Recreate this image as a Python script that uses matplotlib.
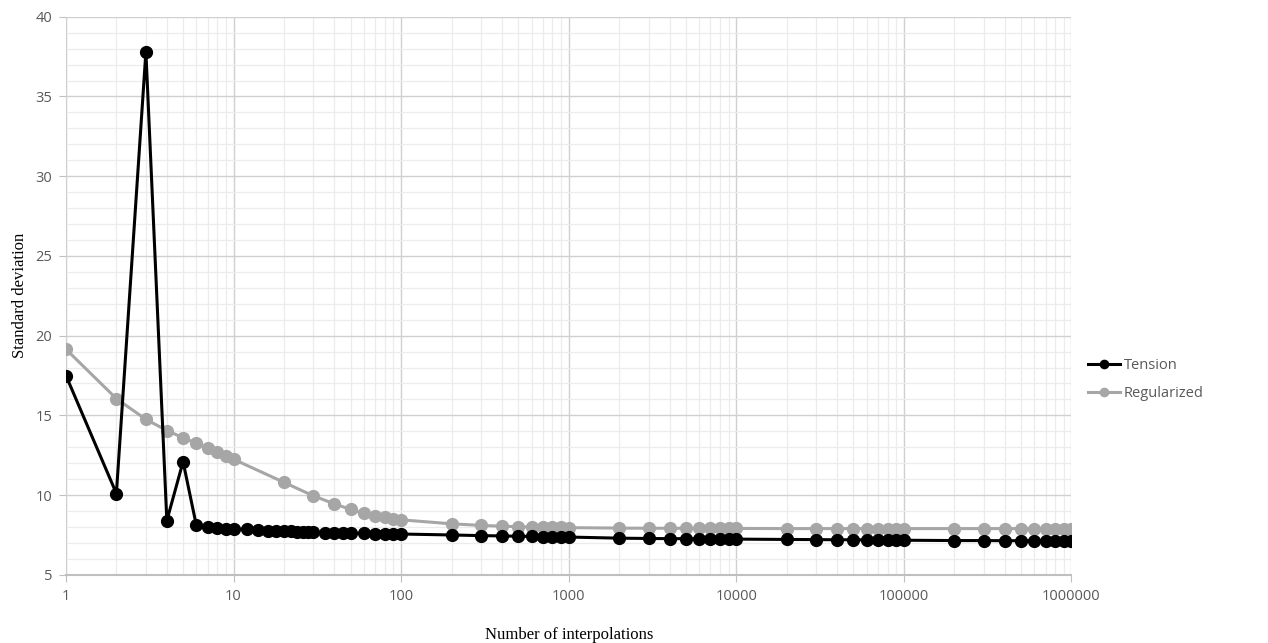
import matplotlib.pyplot as plt
from matplotlib.ticker import FixedLocator, NullFormatter

# interpolation counts
tension_x = [1, 2, 3, 4, 5, 6, 7, 8, 9, 10,
             12, 14, 16, 18, 20, 22, 24, 26, 28, 30, 35, 40, 45, 50,
             60, 70, 80, 90, 100,
             200, 300, 400, 500, 600, 700, 800, 900, 1000,
             2000, 3000, 4000, 5000, 6000, 7000, 8000, 9000, 10000,
             20000, 30000, 40000, 50000, 60000, 70000, 80000, 90000, 100000,
             200000, 300000, 400000, 500000, 600000, 700000, 800000, 900000, 1000000]
tension_y = [17.5, 10.1, 37.8, 8.4, 12.1, 8.1, 8.0, 7.95, 7.9, 7.88,
             7.85, 7.8, 7.78, 7.76, 7.75, 7.72, 7.7, 7.69, 7.68, 7.67, 7.65, 7.63, 7.62, 7.61,
             7.6, 7.59, 7.58, 7.57, 7.56,
             7.5, 7.46, 7.44, 7.42, 7.41, 7.4, 7.39, 7.38, 7.37,
             7.3, 7.28, 7.27, 7.27, 7.26, 7.26, 7.25, 7.25, 7.24,
             7.22, 7.21, 7.2, 7.2, 7.19, 7.19, 7.18, 7.18, 7.17,
             7.15, 7.15, 7.14, 7.14, 7.14, 7.13, 7.13, 7.13, 7.13]

reg_x = [1, 2, 3, 4, 5, 6, 7, 8, 9, 10,
         20, 30, 40, 50, 60, 70, 80, 90, 100,
         200, 300, 400, 500, 600, 700, 800, 900, 1000,
         2000, 3000, 4000, 5000, 6000, 7000, 8000, 9000, 10000,
         20000, 30000, 40000, 50000, 60000, 70000, 80000, 90000, 100000,
         200000, 300000, 400000, 500000, 600000, 700000, 800000, 900000, 1000000]
reg_y = [19.15, 16.05, 14.75, 14.05, 13.6, 13.25, 12.95, 12.7, 12.45, 12.25,
         10.8, 9.95, 9.45, 9.1, 8.85, 8.7, 8.6, 8.5, 8.45,
         8.2, 8.1, 8.05, 8.02, 8.0, 7.99, 7.98, 7.97, 7.96,
         7.93, 7.92, 7.92, 7.92, 7.91, 7.91, 7.91, 7.91, 7.91,
         7.9, 7.9, 7.9, 7.9, 7.9, 7.9, 7.9, 7.9, 7.9,
         7.9, 7.9, 7.9, 7.9, 7.9, 7.9, 7.9, 7.9, 7.9]

xticks = [1, 10, 100, 1000, 10000, 100000, 1000000]
yticks = [5, 10, 15, 20, 25, 30, 35, 40]

fig = plt.figure(figsize=(12.68, 6.43), dpi=100)
ax = fig.add_axes([0.052, 0.106, 0.793, 0.868])

ax.plot(reg_x, reg_y, '-o', color='#a6a6a6', lw=2.2, ms=8.5, label='Regularized', zorder=3)
ax.plot(tension_x, tension_y, '-o', color='black', lw=2.2, ms=8.5, label='Tension', zorder=4)

ax.set_xscale('log')
ax.set_xlim(1, 1000000)
ax.set_ylim(5, 40)
ax.xaxis.set_major_locator(FixedLocator(xticks))
ax.set_xticklabels([str(v) for v in xticks])
minor_x = [m * 10 ** d for d in range(6) for m in range(2, 10)]
ax.xaxis.set_minor_locator(FixedLocator(minor_x))
ax.xaxis.set_minor_formatter(NullFormatter())
ax.set_yticks(yticks)
ax.yaxis.set_minor_locator(FixedLocator([v for v in range(5, 41) if v % 5]))

ax.grid(which='major', color='#d0d0d0', lw=1.0)
ax.grid(which='minor', color='#ececec', lw=0.9)
ax.set_axisbelow(True)

for s in ['top', 'right']:
    ax.spines[s].set_visible(False)
ax.spines['left'].set_color('#d0d0d0')
ax.spines['bottom'].set_color('#bfbfbf')
ax.spines['bottom'].set_linewidth(1.5)

ax.tick_params(which='major', length=5, color='#bfbfbf', labelcolor='#595959',
               labelsize=10.5, pad=5)
ax.tick_params(which='minor', length=0)
for lab in ax.get_xticklabels() + ax.get_yticklabels():
    lab.set_family('Open Sans')

ax.set_xlabel('Number of interpolations', family='Liberation Serif', fontsize=12, labelpad=17)
ax.set_ylabel('Standard deviation', family='Liberation Serif', fontsize=12, labelpad=5)

handles, labels = ax.get_legend_handles_labels()
leg = fig.legend(handles[::-1], labels[::-1], loc='center left', bbox_to_anchor=(0.848, 0.41),
                 frameon=False, handlelength=2.2, markerscale=0.7,
                 prop={'family': 'Open Sans', 'size': 10.5}, labelspacing=0.9, handletextpad=0.2)
for t in leg.get_texts():
    t.set_color('#595959')

fig.savefig('out.png', dpi=100)
